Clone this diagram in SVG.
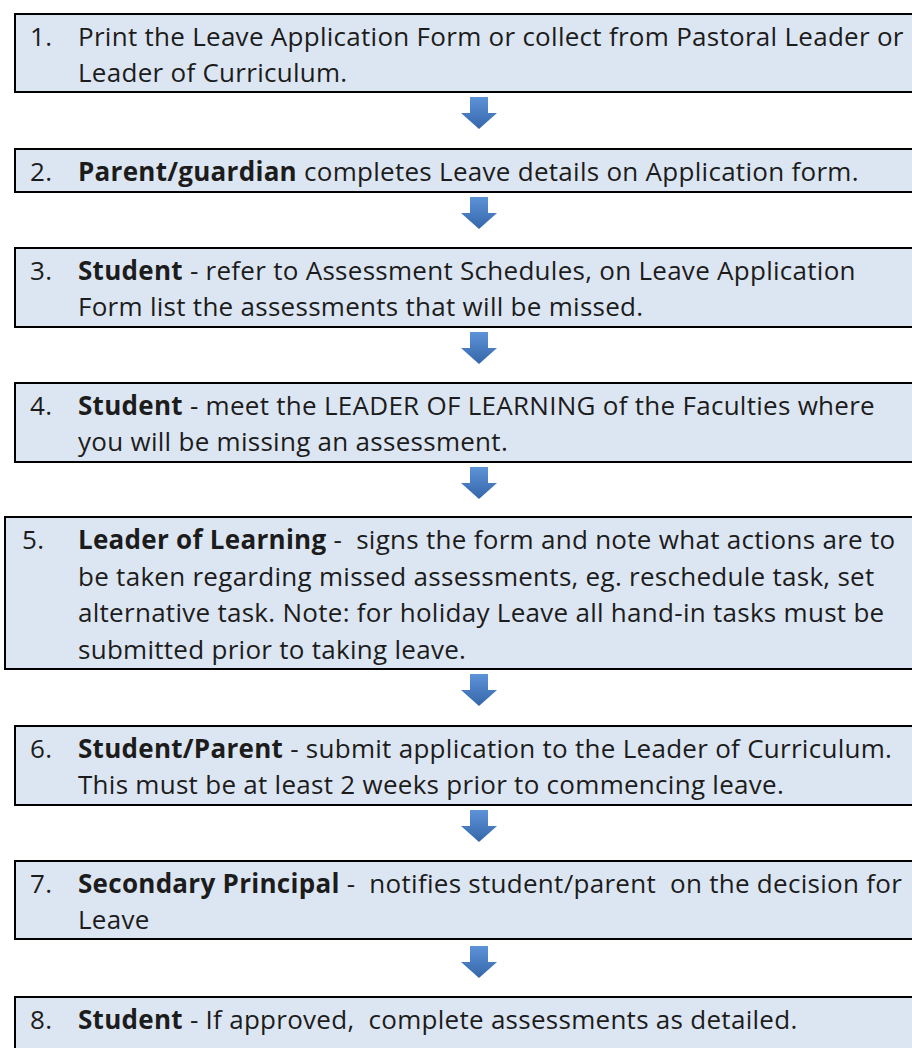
<svg xmlns="http://www.w3.org/2000/svg" width="912" height="1048" viewBox="0 0 912 1048">
<style>
.box{fill:#dce6f2;stroke:#000;stroke-width:2}
text{font-family:"Open Sans","Noto Sans","Liberation Sans",sans-serif;font-size:26px;letter-spacing:0.28px;fill:#1c1c1c;white-space:pre}
.b{font-weight:700}
.arr{fill:url(#ag)}
</style>
<defs>
<linearGradient id="ag" x1="0" y1="0" x2="0" y2="1">
<stop offset="0" stop-color="#5d93d8"/>
<stop offset="1" stop-color="#3566a9"/>
</linearGradient>
<path id="arrow" d="M-9 0H9V16H18L0 32L-18 16H-9Z"/>
</defs>
<rect width="912" height="1048" fill="#fff"/>
<g id="connectors">
<use href="#arrow" class="arr" x="479" y="97"/>
<use href="#arrow" class="arr" x="479" y="197"/>
<use href="#arrow" class="arr" x="479" y="332"/>
<use href="#arrow" class="arr" x="479" y="467"/>
<use href="#arrow" class="arr" x="479" y="674"/>
<use href="#arrow" class="arr" x="479" y="810"/>
<use href="#arrow" class="arr" x="479" y="946"/>
</g>
<g id="step1">
<rect class="box" x="15" y="14" width="910" height="78"/>
<text x="30" y="46">1.</text>
<text x="78" y="46">Print the Leave Application Form or collect from Pastoral Leader or</text>
<text x="78" y="82">Leader of Curriculum.</text>
</g>
<g id="step2">
<rect class="box" x="15" y="149" width="910" height="43"/>
<text x="30" y="181">2.</text>
<text x="78" y="181"><tspan class="b">Parent/guardian</tspan> completes Leave details on Application form.</text>
</g>
<g id="step3">
<rect class="box" x="15" y="248" width="910" height="79"/>
<text x="30" y="280">3.</text>
<text x="78" y="280"><tspan class="b">Student</tspan> - refer to Assessment Schedules, on Leave Application</text>
<text x="78" y="316">Form list the assessments that will be missed.</text>
</g>
<g id="step4">
<rect class="box" x="15" y="383" width="910" height="79"/>
<text x="30" y="415">4.</text>
<text x="78" y="415"><tspan class="b">Student</tspan> - meet the LEADER OF LEARNING of the Faculties where</text>
<text x="78" y="451">you will be missing an assessment.</text>
</g>
<g id="step5">
<rect class="box" x="5" y="517" width="920" height="152"/>
<text x="22" y="549">5.</text>
<text x="78" y="549"><tspan class="b">Leader of Learning</tspan> -  signs the form and note what actions are to</text>
<text x="78" y="585.7">be taken regarding missed assessments, eg. reschedule task, set</text>
<text x="78" y="622.3">alternative task. Note: for holiday Leave all hand-in tasks must be</text>
<text x="78" y="659">submitted prior to taking leave.</text>
</g>
<g id="step6">
<rect class="box" x="15" y="726" width="910" height="79"/>
<text x="30" y="758">6.</text>
<text x="78" y="758"><tspan class="b">Student/Parent</tspan> - submit application to the Leader of Curriculum.</text>
<text x="78" y="794">This must be at least 2 weeks prior to commencing leave.</text>
</g>
<g id="step7">
<rect class="box" x="15" y="861" width="910" height="78"/>
<text x="30" y="893">7.</text>
<text x="78" y="893"><tspan class="b">Secondary Principal</tspan> -  notifies student/parent  on the decision for</text>
<text x="78" y="929">Leave</text>
</g>
<g id="step8">
<rect class="box" x="15" y="997" width="910" height="70"/>
<text x="30" y="1029">8.</text>
<text x="78" y="1029"><tspan class="b">Student</tspan> - If approved,  complete assessments as detailed.</text>
</g>
</svg>
